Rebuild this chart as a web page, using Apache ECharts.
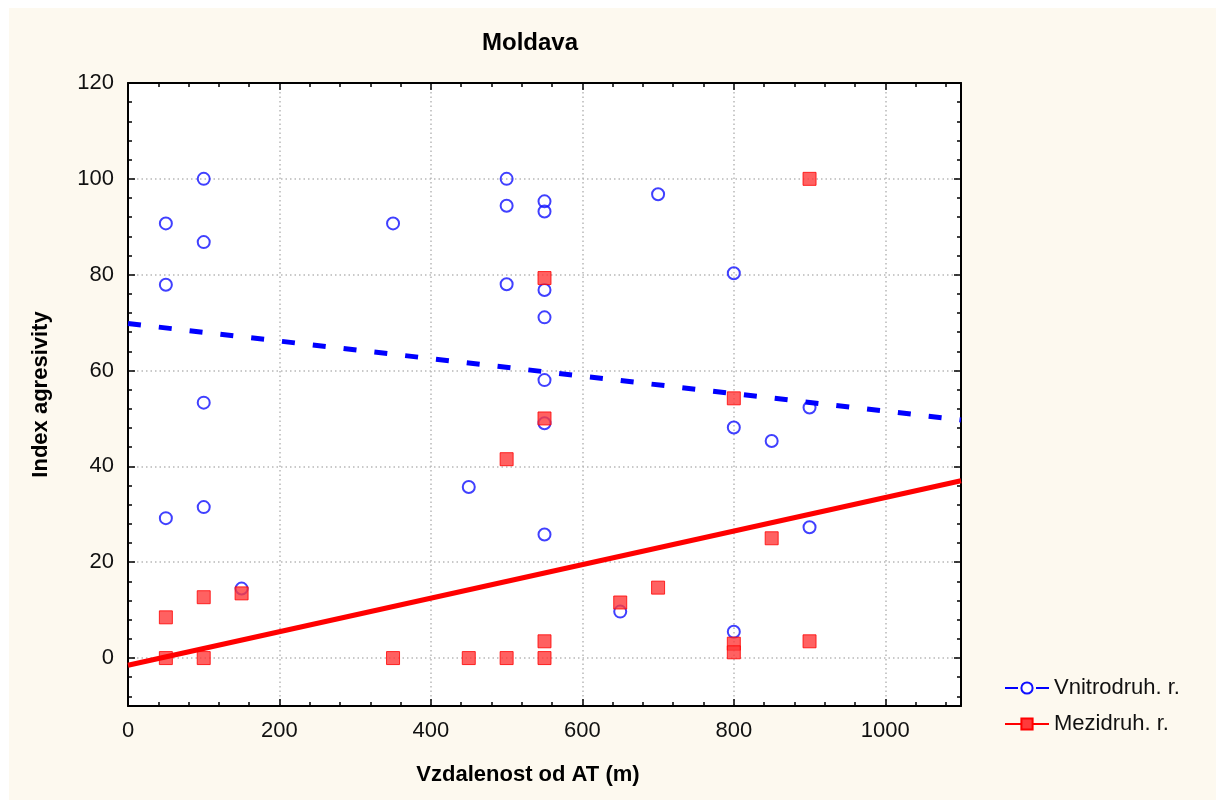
<!DOCTYPE html>
<html>
<head>
<meta charset="utf-8">
<script src="https://cdn.jsdelivr.net/npm/echarts@6/dist/echarts.min.js"></script>
<style>
    html, body { margin: 0; padding: 0; background: #fff; }
    #chart { position: absolute; left: 9px; top: 8px; width: 1207px; height: 792px; background: #fdf9ef; }
</style>
</head>
<body>
<div id="chart"></div>
<script>
// Vnitrodruh. r. - body (x = vzdalenost, y = index)
var vnitroPoints = [
    [50, 90.7], [50, 77.9], [50, 29.2],
    [100, 100], [100, 86.8], [100, 53.3], [100, 31.5],
    [150, 14.5], [350, 90.7], [450, 35.7],
    [500, 100], [500, 94.4], [500, 78],
    [550, 95.3], [550, 93.2], [550, 76.8], [550, 71.1], [550, 58], [550, 49], [550, 25.8],
    [650, 9.7], [700, 96.8],
    [800, 80.3], [800, 48.1], [800, 5.5],
    [850, 45.3], [900, 52.3], [900, 27.3]
];
// Mezidruh. r. - body
var meziPoints = [
    [50, 8.5], [50, 0], [100, 12.7], [100, 0], [150, 13.5],
    [350, 0], [450, 0], [500, 41.5], [500, 0],
    [550, 79.3], [550, 50], [550, 3.5], [550, 0],
    [650, 11.6], [700, 14.7],
    [800, 54.2], [800, 3.0], [800, 1.2],
    [850, 25], [900, 100], [900, 3.5]
];
// regresni primky
var vnitroTrend = [[0, 69.8], [1100, 49.7]];
var meziTrend = [[0, -1.5], [1100, 37.0]];

var xMajor = [0, 200, 400, 600, 800, 1000];
var xMinor = [0, 40, 80, 120, 160, 200, 240, 280, 320, 360, 400, 440, 480, 520, 560, 600, 640, 680, 720, 760, 800, 840, 880, 920, 960, 1000, 1040, 1080];
var yMajor = [0, 20, 40, 60, 80, 100, 120];
var yMinor = [-8, -4, 0, 4, 8, 12, 16, 20, 24, 28, 32, 36, 40, 44, 48, 52, 56, 60, 64, 68, 72, 76, 80, 84, 88, 92, 96, 100, 104, 108, 112, 116, 120];

var names = ['Vnitrodruh. r.', 'Mezidruh. r.'];

var frame = { show: true, onZero: false, lineStyle: { color: '#000', width: 2 } };
var noLine = { show: false, onZero: false };
var grid = { lineStyle: { color: '#b8b8b8', width: 1.5, type: [1.5, 3] } };
var font = 'Liberation Sans, Arial';

function xAx(pos, ticks, len, main) {
    var lab = main && pos === 'bottom';
    return {
        type: 'value', position: pos, min: 0, max: 1100, interval: 200,
        axisLine: main ? frame : noLine,
        axisTick: { show: true, inside: true, length: len, customValues: ticks, lineStyle: { color: '#000', width: 1.5 } },
        axisLabel: lab ? { customValues: xMajor, formatter: function (v) { return String(v); }, fontSize: 22, color: '#111', margin: 14, fontFamily: font } : { show: false },
        splitLine: lab ? Object.assign({ show: true }, grid) : { show: false },
        name: lab ? 'Vzdalenost od AT (m)' : '',
        nameLocation: 'middle', nameGap: 58,
        nameTextStyle: { fontSize: 22, fontWeight: 'bold', color: '#000', fontFamily: font, padding: [0, 33, 0, 0] }
    };
}
function yAx(pos, ticks, len, main) {
    var lab = main && pos === 'left';
    return {
        type: 'value', position: pos, min: -10, max: 120, splitNumber: 6,
        axisLine: main ? frame : noLine,
        axisTick: { show: true, inside: true, length: len, customValues: ticks, lineStyle: { color: '#000', width: 1.5 } },
        axisLabel: lab ? { customValues: yMajor, fontSize: 22, color: '#111', margin: 14, fontFamily: font } : { show: false },
        splitLine: lab ? Object.assign({ show: true }, grid) : { show: false },
        name: lab ? 'Index agresivity' : '',
        nameLocation: 'middle', nameGap: 76,
        nameTextStyle: { fontSize: 22, fontWeight: 'bold', color: '#000', fontFamily: font }
    };
}

var chart = echarts.init(document.getElementById('chart'));
chart.setOption({
    animation: false,
    title: {
        text: 'Moldava', left: 468, top: 18,
        textStyle: { fontSize: 24, fontWeight: 'bold', color: '#000', fontFamily: font }
    },
    grid: { left: 119, top: 75, width: 833, height: 623, show: true, backgroundColor: '#fff', borderWidth: 0 },
    legend: {
        data: names, orient: 'vertical', left: 990, top: 664,
        itemWidth: 44, itemHeight: 14, itemGap: 14,
        textStyle: { fontSize: 22, color: '#111', fontFamily: font }
    },
    xAxis: [xAx('bottom', xMajor, 7, true), xAx('bottom', xMinor, 4, false), xAx('top', xMajor, 7, true), xAx('top', xMinor, 4, false)],
    yAxis: [yAx('left', yMajor, 7, true), yAx('left', yMinor, 4, false), yAx('right', yMajor, 7, true), yAx('right', yMinor, 4, false)],
    series: [
        {
            name: 'vnitro body', type: 'scatter', data: vnitroPoints,
            symbol: 'circle', symbolSize: 12,
            itemStyle: { color: 'rgba(0,0,0,0)', borderColor: '#1010ff', borderWidth: 2 }
        },
        {
            name: 'mezi body', type: 'scatter', data: meziPoints,
            symbol: 'rect', symbolSize: 13,
            itemStyle: { color: '#ff3a3a', borderColor: '#f00', borderWidth: 1 }
        },
        {
            name: names[0], type: 'line', data: vnitroTrend, showSymbol: false,
            symbol: 'circle', symbolSize: 12,
            itemStyle: { color: '#fff', borderColor: '#1010ff', borderWidth: 2 },
            lineStyle: { color: '#0000ff', width: 5, type: [13, 18] }
        },
        {
            name: names[1], type: 'line', data: meziTrend, showSymbol: false,
            symbol: 'rect', symbolSize: 13,
            itemStyle: { color: '#ff3a3a', borderColor: '#f00', borderWidth: 1 },
            lineStyle: { color: '#ff0000', width: 5 }
        }
    ]
});
</script>
</body>
</html>
